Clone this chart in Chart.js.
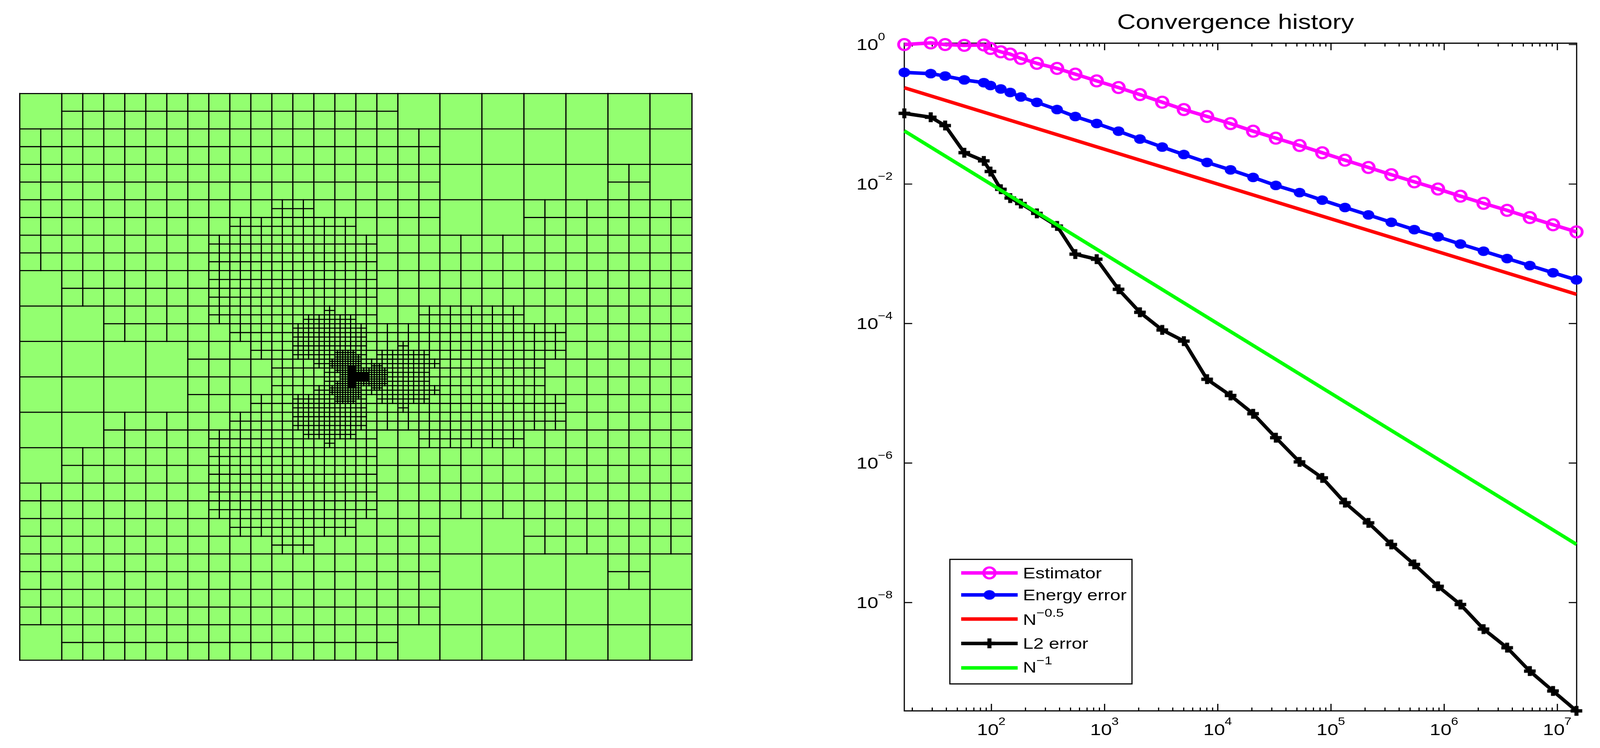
<!DOCTYPE html>
<html><head><meta charset="utf-8">
<script src="https://cdn.jsdelivr.net/npm/chart.js@4"></script>
<style>
html,body{margin:0;padding:0;background:#fff;overflow:hidden}
canvas{position:absolute;display:block}
</style></head><body>
<canvas id="mesh"></canvas>
<canvas id="conv"></canvas>
<script>
// ---------- Convergence data ----------
const titleText = "Convergence history";
const dofs = [17,29.1,39,57.6,85.6,98,121,146.5,182,252,380,551,851,1327,2050,3228,5012,8035,12955,20512,32570,52780,83730,132900,214100,341200,544500,881900,1392000,2228000,3597000,5708000,9150000,14740000];
const estimator = [1.0,1.056,1.0,0.975,0.987,0.879,0.787,0.730,0.632,0.538,0.455,0.3766,0.3013,0.2419,0.1918,0.1490,0.1169,0.0931,0.0736,0.0573,0.0455,0.0357,0.0281,0.0220,0.01728,0.01363,0.01076,0.00849,0.00671,0.00529,0.00420,0.00331,0.00261,0.00206];
const energyError = [0.3986,0.3829,0.3536,0.3112,0.2840,0.2588,0.2307,0.2056,0.1771,0.1482,0.1169,0.0929,0.0738,0.0573,0.0442,0.0339,0.0265,0.0204,0.01597,0.01245,0.00956,0.00754,0.00588,0.00461,0.00361,0.00283,0.00222,0.00175,0.00138,0.00109,0.000855,0.000678,0.000535,0.000423];
const l2Error = [0.1033,0.0908,0.0689,0.0282,0.0215,0.01515,0.00841,0.00631,0.00525,0.0038,0.0025,0.000988,0.000836,0.00031,0.000145,8.09e-5,5.6e-5,1.59e-5,9.31e-6,5.1e-6,2.31e-6,1.04e-6,6.14e-7,2.7e-7,1.39e-7,6.79e-8,3.52e-8,1.71e-8,9.38e-9,4.17e-9,2.25e-9,1.04e-9,5.4e-10,2.8e-10];
const refEnds = [17,14740000];
const refHalf = [0.2404,2.63e-4];
const refOne = [0.0579,6.84e-8];
const labels = ["Estimator","Energy error","N^\u22120.5","L2 error","N^\u22121"];
const xMajorTicks = [100,1000,10000,100000,1000000,10000000];
const xMinorFactors = [2,3,4,5,6,7,8,9];
const xFirstDecade = 10;
const yMajorTicks = [1,1e-2,1e-4,1e-6,1e-8];
const xRange = [17,14800000];
const yRange = [2.8e-10,1.046];

// ---------- Mesh data (top half; the bottom half mirrors it) ----------
const coarseSplitTop = [
 "0111111110000000",
 "1111111111000000",
 "1111111111000010",
 "1111111111001111",
 "1111111111111111",
 "0111111111111111",
 "0011111111111111",
 "0000111111111111"];
const l1SplitTop = [[6,12,13],[7,10,15],[8,9,16],[9,9,16],[10,9,16],[11,9,16],[12,9,16],[12,19,23],[13,10,25],[14,11,25],[15,12,24]];
const l2SplitTop = [[24,29,29],[25,27,31],[26,26,32],[27,26,32],[28,26,32],[28,36,36],[29,26,32],[29,34,38],[30,28,39],[31,29,38]];
const l3SplitTop = [[58,60,63],[59,60,64],[60,59,64],[61,59,64],[61,67,68],[62,60,69],[63,61,69]];
const l4SplitTop = [[123,125,127],[124,125,127],[125,125,127],[126,125,132],[127,125,132]];
const meshColor = "#93FF70";

// The browser window may be narrower than the requested 4248 px; the whole
// figure is then fitted to it horizontally so nothing is cut off.
const KX = Math.min(1, window.innerWidth/4248);
const X = v => v*KX;

// ---------- Mesh construction ----------
function rangesToSet(list){
  const s = new Set();
  for(const [row,a,b] of list) for(let c=a;c<=b;c++) s.add(c+","+row);
  return s;
}
const splitSets = [
  rangesToSet(coarseSplitTop.flatMap((r,j)=>[...r].map((ch,i)=>ch==="1"?[j,i,i]:null).filter(Boolean))),
  rangesToSet(l1SplitTop), rangesToSet(l2SplitTop), rangesToSet(l3SplitTop), rangesToSet(l4SplitTop)
];
const hEdges=[], vEdges=[];
function addCell(level,a,b){
  const n = 16*Math.pow(2,level), size = 16/n;
  const mb = b<n/2 ? b : n-1-b;
  const split = level>=5 ? level<6 : splitSets[level].has(a+","+mb);
  if(split){
    for(const [da,db] of [[0,0],[1,0],[0,1],[1,1]]) addCell(level+1,2*a+da,2*b+db);
    return;
  }
  const x=a*size,y=b*size;
  hEdges.push({x:x,y:y},{x:x+size,y:y},{x:NaN,y:NaN});
  vEdges.push({x:x,y:y},{x:x,y:y+size},{x:NaN,y:NaN});
}
for(let b=0;b<16;b++) for(let a=0;a<16;a++) addCell(0,a,b);
hEdges.push({x:0,y:16},{x:16,y:16});
vEdges.push({x:16,y:0},{x:16,y:16});

const meshEl=document.getElementById("mesh");
meshEl.style.left=X(40)+"px";meshEl.style.top="228px";
meshEl.width=Math.round(X(1809));meshEl.height=1473;
new Chart(meshEl,{
  type:"scatter",
  data:{datasets:[
    {data:[{x:0,y:0},{x:16,y:0}],showLine:true,pointRadius:0,borderWidth:0,borderColor:meshColor,backgroundColor:meshColor,fill:"start",order:3},
    {data:hEdges,showLine:true,pointRadius:0,borderColor:"#000",borderWidth:2.8,spanGaps:false,clip:false,order:2,borderCapStyle:"square"},
    {data:vEdges,showLine:true,pointRadius:0,borderColor:"#000",borderWidth:3.1,spanGaps:false,clip:false,order:1,borderCapStyle:"square"}
  ]},
  options:{
    responsive:false,animation:false,devicePixelRatio:1,
    layout:{padding:{left:X(12),right:X(12),top:11.3,bottom:11.7}},
    plugins:{legend:{display:false},tooltip:{enabled:false}},
    events:[],
    scales:{
      x:{type:"linear",min:0,max:16,display:false},
      y:{type:"linear",min:0,max:16,reverse:true,display:false}
    }
  }
});

// ---------- Markers ----------
const SX = 1.27*KX;
function marker(w,h,paint){
  const c=document.createElement("canvas");c.width=Math.ceil(X(w));c.height=h;
  const g=c.getContext("2d");paint(g,c.width/2,h/2);return c;
}
const ringMark = marker(40,36,(g,x,y)=>{
  g.fillStyle="#FF00FF";g.beginPath();
  g.ellipse(x,y,X(19),16.8,0,0,Math.PI*2);
  g.ellipse(x,y,X(11.4),11.2,0,0,Math.PI*2);
  g.fill("evenodd");
});
const dotMark = marker(32,26,(g,x,y)=>{
  g.fillStyle="#0000FF";g.beginPath();g.ellipse(x,y,X(15.5),12.2,0,0,Math.PI*2);g.fill();
});
const plusMark = marker(32,26,(g,x,y)=>{
  g.fillStyle="#000";g.fillRect(x-X(15.5),y-4.3,X(31),8.6);g.fillRect(x-X(5.4),y-12.6,X(10.8),25.2);
});

function xy(xs,ys){return xs.map((x,i)=>({x:x,y:ys[i]}));}
const LW = 9;
const common = {showLine:true,clip:false,borderWidth:LW,borderJoinStyle:"round",borderCapStyle:"butt",tension:0};

// ---------- Drawing helpers ----------
const FF = '"Liberation Sans", Arial, Helvetica, sans-serif';
function stretched(ctx,text,size,x,y){
  ctx.save();ctx.translate(x,y);ctx.scale(SX,1);
  ctx.font=size+"px "+FF;ctx.fillStyle="#000";ctx.textAlign="left";ctx.textBaseline="alphabetic";
  ctx.fillText(text,0,0);
  const w=ctx.measureText(text).width*SX;ctx.restore();return w;
}
function widthOf(ctx,text,size){
  ctx.save();ctx.font=size+"px "+FF;const w=ctx.measureText(text).width*SX;ctx.restore();return w;
}
function powerLabel(v){
  return String(Math.round(Math.log10(v))).replace("-","\u2212");
}
const OX = 2150; // canvas offset on the page, in reference pixels
const PX = v => X(v-OX);

const framePlugin = {
  id:"frame",
  beforeDatasetsDraw(chart){
    const {ctx,chartArea:a,scales:{x,y}}=chart;
    ctx.save();ctx.strokeStyle="#000";ctx.lineWidth=3;ctx.lineCap="butt";
    ctx.beginPath();
    ctx.rect(a.left,a.top,a.right-a.left,a.bottom-a.top);
    for(const t of x.ticks){
      const p=x.getPixelForValue(t.value),l=t.major?18:8.5;
      ctx.moveTo(p,a.bottom);ctx.lineTo(p,a.bottom-l);
      ctx.moveTo(p,a.top);ctx.lineTo(p,a.top+l);
    }
    ctx.stroke();
    ctx.lineWidth=2.6;ctx.beginPath();
    for(const t of y.ticks){
      const p=y.getPixelForValue(t.value);
      ctx.moveTo(a.left,p);ctx.lineTo(a.left+X(21),p);
      ctx.moveTo(a.right,p);ctx.lineTo(a.right-X(21),p);
    }
    ctx.stroke();ctx.restore();
  },
  afterDraw(chart){
    const {ctx,scales:{x,y}}=chart;
    stretched(ctx,titleText,54,PX(2966),74);
    for(const t of x.ticks){
      if(!t.major) continue;
      const sup=powerLabel(t.value),p=x.getPixelForValue(t.value);
      const w=widthOf(ctx,"10",41)+widthOf(ctx,sup,27);
      const x0=p-w/2;
      const b=stretched(ctx,"10",41,x0,1880.5);
      stretched(ctx,sup,27,x0+b-1,1855);
    }
    for(const t of y.ticks){
      const sup=powerLabel(t.value),p=y.getPixelForValue(t.value);
      const b=stretched(ctx,"10",41,PX(2274),p+14.5);
      stretched(ctx,sup,27,PX(2274)+b-1,p-10.5);
    }
    const box={l:PX(2522),r:PX(3005.5),t:1431.3,b:1750};
    ctx.save();ctx.fillStyle="#fff";ctx.strokeStyle="#000";ctx.lineWidth=3;
    ctx.fillRect(box.l,box.t,box.r-box.l,box.b-box.t);
    ctx.strokeRect(box.l,box.t,box.r-box.l,box.b-box.t);ctx.restore();
    const rows=[[1466,1480],[1522.3,1536],[1584,1599],[1646.4,1660],[1709,1720.5]];
    const ds=chart.data.datasets;
    labels.forEach((lab,i)=>{
      const d=ds.find(s=>s.label===lab);
      const [ly,by]=rows[i];
      ctx.save();ctx.strokeStyle=d.borderColor;ctx.lineWidth=LW;ctx.beginPath();
      ctx.moveTo(PX(2552),ly);ctx.lineTo(PX(2702),ly);ctx.stroke();ctx.restore();
      if(d.pointRadius>0){
        const m=d.pointStyle;ctx.drawImage(m,PX(2627)-m.width/2,ly-m.height/2);
      }
      const [base,sup]=lab.split("^");
      const w=stretched(ctx,base,39,PX(2716),by);
      if(sup) stretched(ctx,sup,29,PX(2716)+w,by-21);
    });
  }
};

const convEl=document.getElementById("conv");
convEl.style.left=X(OX)+"px";convEl.style.top="0";
convEl.width=Math.round(X(2098));convEl.height=1914;
new Chart(convEl,{
  type:"scatter",
  data:{datasets:[
    {...common,label:labels[0],data:xy(dofs,estimator),borderColor:"#FF00FF",backgroundColor:"#FF00FF",pointStyle:ringMark,pointRadius:20,order:5},
    {...common,label:labels[1],data:xy(dofs,energyError),borderColor:"#0000FF",backgroundColor:"#0000FF",pointStyle:dotMark,pointRadius:20,order:4},
    {...common,label:labels[2],data:xy(refEnds,refHalf),borderColor:"#FF0000",backgroundColor:"#FF0000",pointRadius:0,order:3},
    {...common,label:labels[3],data:xy(dofs,l2Error),borderColor:"#000000",backgroundColor:"#000000",pointStyle:plusMark,pointRadius:20,order:2},
    {...common,label:labels[4],data:xy(refEnds,refOne),borderColor:"#00FF00",backgroundColor:"#00FF00",pointRadius:0,order:1}
  ]},
  options:{
    responsive:false,animation:false,devicePixelRatio:1,
    layout:{padding:{left:X(251),right:X(62),top:110.5,bottom:95}},
    plugins:{legend:{display:false},tooltip:{enabled:false},title:{display:false}},
    events:[],
    scales:{
      x:{type:"logarithmic",min:xRange[0],max:xRange[1],
        grid:{display:false,drawTicks:false},border:{display:false},
        ticks:{display:false,autoSkip:false},
        afterBuildTicks(s){
          const out=[];
          for(const m of xMajorTicks) out.push({value:m,major:true});
          for(const d of [xFirstDecade,...xMajorTicks]) for(const f of xMinorFactors){
            const v=d*f; if(v>=xRange[0]&&v<=xRange[1]) out.push({value:v,major:false});
          }
          s.ticks=out;
        }},
      y:{type:"logarithmic",min:yRange[0],max:yRange[1],
        grid:{display:false,drawTicks:false},border:{display:false},
        ticks:{display:false,autoSkip:false},
        afterBuildTicks(s){s.ticks=yMajorTicks.map(v=>({value:v,major:true}));}}
    }
  },
  plugins:[framePlugin]
});
</script>
</body></html>
